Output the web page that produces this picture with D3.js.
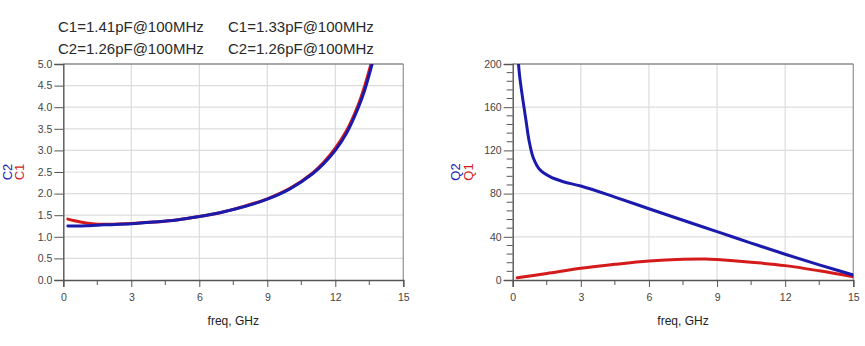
<!DOCTYPE html>
<html><head><meta charset="utf-8">
<script src="https://cdn.jsdelivr.net/npm/d3@7"></script>
<style>
body{margin:0;background:#fff;}
svg{font-family:"Liberation Sans",Arial,sans-serif;}
</style></head>
<body><svg id="c" width="865" height="346"></svg>
<script>
// ---- data ----
const titleLines = [
  ["C1=1.41pF@100MHz", "C1=1.33pF@100MHz"],
  ["C2=1.26pF@100MHz", "C2=1.26pF@100MHz"]
];
const xTicks = [0, 3, 6, 9, 12, 15];
const cTicks = [0.0, 0.5, 1.0, 1.5, 2.0, 2.5, 3.0, 3.5, 4.0, 4.5, 5.0];
const qTicks = [0, 40, 80, 120, 160, 200];

const cFreq = [0.2, 0.5, 1, 1.5, 2, 3, 4, 5, 6, 7, 8, 9, 10, 11, 11.5, 12, 12.5, 13, 13.3, 13.7, 14.0];
const c1 = [1.41, 1.37, 1.32, 1.29, 1.29, 1.31, 1.34, 1.39, 1.47, 1.57, 1.71, 1.88, 2.12, 2.48, 2.73, 3.05, 3.46, 4.04, 4.50, 5.25, 5.9];
const c2 = [1.25, 1.25, 1.255, 1.27, 1.28, 1.30, 1.34, 1.39, 1.47, 1.57, 1.70, 1.87, 2.11, 2.46, 2.70, 3.00, 3.40, 3.97, 4.40, 5.15, 5.8];

const q2Freq = [0.2, 0.3, 0.44, 0.59, 0.73, 0.91, 1.2, 1.64, 2.23, 3, 4.5, 6, 7.5, 9, 10.5, 12, 13.5, 15];
const q2 = [215, 190, 168, 147, 128, 113, 102, 95.7, 91, 87, 76.8, 66, 55.3, 44.8, 34.2, 23.8, 14, 4.6];
const q1Freq = [0.2, 1.5, 3, 4.5, 6, 7.5, 8.5, 9, 10.5, 12, 13.5, 15];
const q1 = [2, 6, 10.8, 14.5, 17.6, 19.2, 19.4, 18.9, 16.5, 13.3, 8.5, 3];

const red = "#d41a1a", blue = "#1a1aad";

// ---- drawing ----
const svg = d3.select("#c");

// title
const tg = svg.append("g").attr("fill", "#2a2a2a").attr("font-size", 15);
titleLines.forEach((row, i) => row.forEach((t, j) => {
  tg.append("text").attr("x", j === 0 ? 58 : 228).attr("y", i === 0 ? 31.5 : 54).text(t);
}));

function panel(opt) {
  const {x0, x1, y0, y1} = opt;
  const x = d3.scaleLinear().domain([0, 15]).range([x0, x1]);
  const y = d3.scaleLinear().domain(opt.yDomain).range([y1, y0]);
  const g = svg.append("g");
  const id = "clip" + Math.round(x0);
  svg.append("clipPath").attr("id", id).append("rect")
    .attr("x", x0).attr("y", y0).attr("width", x1 - x0).attr("height", y1 - y0);

  // grid
  g.append("g").selectAll("line").data(xTicks.slice(1, -1)).join("line")
    .attr("x1", d => x(d)).attr("x2", d => x(d)).attr("y1", y0).attr("y2", y1)
    .attr("stroke", "#dcdcdc").attr("stroke-width", 1.2);
  g.append("g").selectAll("line").data(opt.yTicks.slice(1, -1)).join("line")
    .attr("y1", d => y(d)).attr("y2", d => y(d)).attr("x1", x0).attr("x2", x1)
    .attr("stroke", "#dcdcdc").attr("stroke-width", 1.2);

  // frame top/right
  g.append("line").attr("x1", x0).attr("x2", x1).attr("y1", y0).attr("y2", y0).attr("stroke", "#8a8a8a").attr("stroke-width", 1.3);
  g.append("line").attr("x1", x1).attr("x2", x1).attr("y1", y0).attr("y2", y1).attr("stroke", "#9a9a9a").attr("stroke-width", 1.3);

  // x axis
  const xMinor = d3.range(1.5, 15, 3);
  const xa = g.append("g").attr("transform", `translate(0,${y1})`)
    .call(d3.axisBottom(x).tickValues(xTicks).tickFormat(d3.format("d")).tickSize(7).tickPadding(7));
  xa.append("g").selectAll("line").data(xMinor).join("line")
    .attr("x1", d => x(d)).attr("x2", d => x(d)).attr("y1", 0).attr("y2", 5)
    .attr("stroke", "#555");
  // y axis
  const ya = g.append("g").attr("transform", `translate(${x0},0)`)
    .call(d3.axisLeft(y).tickValues(opt.yTicks).tickFormat(opt.yFmt).tickSize(9).tickPadding(2));
  if (opt.yMinor) {
    ya.append("g").selectAll("line").data(opt.yMinor).join("line")
      .attr("y1", d => y(d)).attr("y2", d => y(d)).attr("x1", 0).attr("x2", -6)
      .attr("stroke", "#555");
  }
  [xa, ya].forEach(a => {
    a.select(".domain").attr("stroke", "#555").attr("stroke-width", 1.4);
    a.selectAll(".tick line").attr("stroke", "#555");
    a.selectAll(".tick text").attr("fill", "#444").attr("font-size", 10.5)
      .attr("font-family", "'Liberation Sans', Arial, sans-serif");
  });

  // x label
  svg.append("text").attr("x", (x0 + x1) / 2).attr("y", 325).attr("text-anchor", "middle")
    .attr("font-size", 12).attr("fill", "#222").text("freq, GHz");
  // y labels
  opt.yLabels.forEach(l => {
    svg.append("text").attr("transform", `translate(${l.x},172) rotate(-90)`)
      .attr("text-anchor", "middle").attr("font-size", 13).attr("fill", l.color).text(l.text);
  });

  // curves
  const line = d3.line().x(d => x(d[0])).y(d => y(d[1])).curve(d3.curveCatmullRom.alpha(0.5));
  opt.series.forEach(s => {
    svg.append("path").attr("clip-path", `url(#${id})`)
      .attr("d", line(d3.zip(s.f, s.v)))
      .attr("fill", "none").attr("stroke", s.color).attr("stroke-width", 3)
      .attr("stroke-linejoin", "round").attr("stroke-linecap", "round");
  });
}

panel({
  x0: 63.3, x1: 403.3, y0: 64, y1: 280,
  yDomain: [0, 5], yTicks: cTicks, yFmt: d3.format(".1f"),
  yLabels: [{x: 12, text: "C2", color: blue}, {x: 24, text: "C1", color: red}],
  series: [{f: cFreq, v: c1, color: red}, {f: cFreq, v: c2, color: blue}]
});
panel({
  x0: 512.7, x1: 853.3, y0: 64, y1: 280,
  yDomain: [0, 200], yTicks: qTicks, yFmt: d3.format("d"),
  yMinor: d3.range(8, 200, 8).filter(v => v % 40 !== 0),
  yLabels: [{x: 460, text: "Q2", color: blue}, {x: 473, text: "Q1", color: red}],
  series: [{f: q1Freq, v: q1, color: red}, {f: q2Freq, v: q2, color: blue}]
});
</script></body></html>
